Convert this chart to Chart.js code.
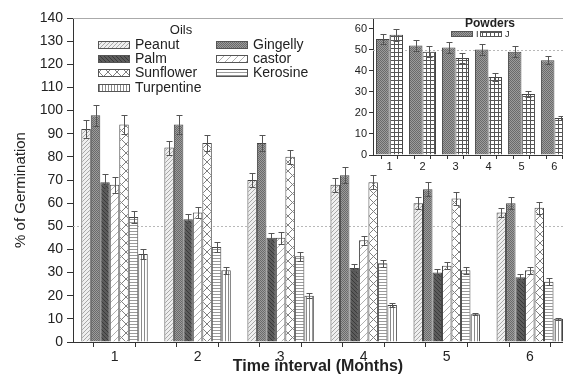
<!DOCTYPE html>
<html>
<head>
<meta charset="utf-8">
<script src="https://cdn.jsdelivr.net/npm/chart.js@4"></script>
<style>
  body { margin: 0; background: #fff; }
  #wrap { position: relative; width: 563px; height: 376px; }
  #mainChart { position: absolute; left: 0; top: 0; }
  #insetChart { position: absolute; left: 330px; top: 0; }
</style>
</head>
<body>
<div id="wrap">
  <canvas id="mainChart" width="563" height="376"></canvas>
  <canvas id="insetChart" width="233" height="180"></canvas>
</div>
<script>
// data
const months = [1, 2, 3, 4, 5, 6];
const xTicks = [1, 1.5, 2, 2.5, 3, 3.5, 4, 4.5, 5, 5.5, 6];

const peanut     = [92, 84, 70, 68, 60, 56];
const gingelly   = [98, 94, 86, 72, 66, 60];
const palm       = [69, 53, 45, 32, 30, 28];
const castor     = [68, 56, 45, 44, 33, 31];
const sunflower  = [94, 86, 80, 69, 62, 58];
const kerosine   = [54, 41, 37, 34, 31, 26];
const turpentine = [38, 31, 20, 16, 12, 10];

const peanutErr     = [4, 3, 3, 3, 2.5, 2];
const gingellyErr   = [4.5, 4, 3.5, 3.5, 3, 2.5];
const palmErr       = [3.5, 2.5, 2, 1.5, 1.5, 1.5];
const castorErr     = [3.5, 2.5, 2.5, 2, 1.5, 1.5];
const sunflowerErr  = [4, 3.5, 3, 3, 3, 2.5];
const kerosineErr   = [2.5, 2, 2, 1.5, 1.5, 1.5];
const turpentineErr = [2, 1.5, 1, 1, 0.5, 0.5];

const powderI    = [55, 52, 51, 50, 49, 45];
const powderJ    = [57, 49, 46, 37, 29, 17.5];
const powderIErr = [2.5, 2.5, 2.5, 2.5, 2.5, 2];
const powderJErr = [3, 2.5, 2.5, 2, 1.5, 1];

// hatch fills
const pctx = document.createElement('canvas').getContext('2d');
function makePattern(size, bg, fg, draw) {
    const c = document.createElement('canvas');
    c.width = c.height = size;
    const g = c.getContext('2d');
    g.fillStyle = bg;
    g.fillRect(0, 0, size, size);
    g.strokeStyle = fg;
    g.fillStyle = fg;
    g.lineWidth = 1;
    draw(g, size);
    return pctx.createPattern(c, 'repeat');
}
function slash(g, s) {
    g.beginPath();
    g.moveTo(0, s); g.lineTo(s, 0);
    g.moveTo(-1, 1); g.lineTo(1, -1);
    g.moveTo(s - 1, s + 1); g.lineTo(s + 1, s - 1);
    g.stroke();
}
function backslash(g, s) {
    g.beginPath();
    g.moveTo(0, 0); g.lineTo(s, s);
    g.moveTo(-1, s - 1); g.lineTo(1, s + 1);
    g.moveTo(s - 1, -1); g.lineTo(s + 1, 1);
    g.stroke();
}

const fillPeanut = makePattern(4, '#efefef', '#a8a8a8', slash);
const fillGingelly = makePattern(2, '#9c9c9c', '#6a6a6a', (g) => { g.fillRect(0, 0, 1, 1); g.fillRect(1, 1, 1, 1); });
const fillPalm = makePattern(4, '#5c5c5c', '#3a3a3a', backslash);
const fillCastor = makePattern(7, '#ffffff', '#b0b0b0', slash);
const fillSunflower = makePattern(9, '#ffffff', '#808080', (g, s) => { slash(g, s); backslash(g, s); });
const fillKerosine = makePattern(3, '#ffffff', '#9a9a9a', (g) => { g.fillRect(0, 0, 3, 1); });
const fillTurpentine = makePattern(3, '#ffffff', '#8a8a8a', (g) => { g.fillRect(0, 0, 1, 3); });
const fillJ = makePattern(4, '#ffffff', '#555555', (g) => { g.fillRect(0, 0, 4, 1); g.fillRect(0, 0, 1, 4); });

function points(vals) {
    return months.map((m, i) => ({ x: m, y: vals[i] }));
}
// the half-step minor ticks make Chart.js measure a 0.5 spacing, hence the doubled percentage
function bars(label, vals, fill, pct) {
    return {
        label: label,
        data: points(vals),
        backgroundColor: fill,
        borderColor: '#444',
        borderWidth: 1,
        barPercentage: 1,
        categoryPercentage: pct
    };
}

// error bars drawn from each dataset's value +/- error
const errorBars = {
    id: 'errorBars',
    afterDatasetsDraw(chart, args, opts) {
        const ctx = chart.ctx;
        const ys = chart.scales.y;
        ctx.save();
        ctx.strokeStyle = '#555';
        ctx.lineWidth = 1;
        chart.data.datasets.forEach((ds, i) => {
            const meta = chart.getDatasetMeta(i);
            const errs = opts.errors[i];
            meta.data.forEach((el, j) => {
                const v = ds.data[j].y;
                const top = Math.round(ys.getPixelForValue(v + errs[j])) + 0.5;
                const bot = Math.round(ys.getPixelForValue(v - errs[j])) + 0.5;
                const x = Math.round(el.x) + 0.5;
                const w = opts.cap;
                ctx.beginPath();
                ctx.moveTo(x, top); ctx.lineTo(x, bot);
                ctx.moveTo(x - w, top); ctx.lineTo(x + w, top);
                ctx.moveTo(x - w, bot); ctx.lineTo(x + w, bot);
                ctx.stroke();
            });
        });
        ctx.restore();
    }
};

// dotted 50% reference line and top frame
const refLine = {
    id: 'refLine',
    beforeDatasetsDraw(chart, args, opts) {
        const ctx = chart.ctx;
        const a = chart.chartArea;
        const y = Math.round(chart.scales.y.getPixelForValue(opts.value)) + 0.5;
        ctx.save();
        ctx.strokeStyle = '#b8b8b8';
        ctx.lineWidth = 1;
        ctx.setLineDash([2, 2]);
        ctx.beginPath();
        ctx.moveTo(a.left, y); ctx.lineTo(a.right, y);
        ctx.stroke();
        ctx.setLineDash([]);
        ctx.strokeStyle = '#aaa';
        ctx.beginPath();
        ctx.moveTo(a.left, a.top + 0.5); ctx.lineTo(a.right, a.top + 0.5);
        ctx.stroke();
        ctx.restore();
    }
};

// boxed legend with pattern swatches
const swatchLegend = {
    id: 'swatchLegend',
    afterDraw(chart, args, opts) {
        const ctx = chart.ctx;
        const ds = chart.data.datasets;
        ctx.save();
        ctx.fillStyle = '#222';
        ctx.font = opts.titleFont;
        ctx.textAlign = 'center';
        ctx.textBaseline = 'middle';
        ctx.fillText(opts.title, opts.titleX, opts.titleY);
        ctx.font = opts.font;
        ctx.textAlign = 'left';
        opts.items.forEach((it, k) => {
            ctx.fillStyle = ds[k].backgroundColor;
            ctx.fillRect(it.x, it.y - opts.h / 2, opts.w, opts.h);
            ctx.strokeStyle = '#555';
            ctx.lineWidth = 1;
            ctx.strokeRect(it.x + 0.5, it.y - opts.h / 2 + 0.5, opts.w - 1, opts.h - 1);
            ctx.fillStyle = '#222';
            ctx.fillText(ds[k].label, it.x + opts.w + opts.gap, it.y + 0.5);
        });
        if (opts.yTitle) {
            ctx.translate(opts.yTitle.x, opts.yTitle.y);
            ctx.rotate(-Math.PI / 2);
            ctx.textAlign = 'center';
            ctx.font = opts.yTitle.font;
            ctx.fillText(opts.yTitle.text, 0, 0);
        }
        ctx.restore();
    }
};

Chart.defaults.font.family = '"Liberation Sans", Arial, sans-serif';
Chart.defaults.color = '#222';

const axisCommon = {
    border: { color: '#333', width: 1 },
    grid: { drawOnChartArea: false, tickColor: '#333', tickLength: 5 }
};

new Chart(document.getElementById('mainChart'), {
    type: 'bar',
    data: {
        datasets: [
            bars('Peanut', peanut, fillPeanut, 1.6),
            bars('Gingelly', gingelly, fillGingelly, 1.6),
            bars('Palm', palm, fillPalm, 1.6),
            bars('castor', castor, fillCastor, 1.6),
            bars('Sunflower', sunflower, fillSunflower, 1.6),
            bars('Kerosine', kerosine, fillKerosine, 1.6),
            bars('Turpentine', turpentine, fillTurpentine, 1.6)
        ]
    },
    options: {
        responsive: false,
        animation: false,
        devicePixelRatio: 1,
        layout: { padding: { top: 18, right: 0, left: 0, bottom: 0 } },
        scales: {
            x: {
                type: 'linear',
                offset: false,
                min: 0.5,
                max: 6.4,
                afterBuildTicks: (s) => { s.ticks = xTicks.map(v => ({ value: v })); },
                afterFit: (s) => { s.height = 34; },
                ticks: {
                    autoSkip: false,
                    maxRotation: 0,
                    padding: 2,
                    font: { size: 14 },
                    callback: (v) => Number.isInteger(v) ? v : ''
                },
                title: {
                    display: true,
                    text: 'Time interval (Months)',
                    font: { size: 16, weight: 'bold', lineHeight: 1 },
                    padding: { top: 0, bottom: 1 }
                },
                ...axisCommon
            },
            y: {
                min: 0,
                max: 140,
                afterFit: (s) => { s.width = 73; },
                ticks: {
                    stepSize: 5,
                    padding: 4,
                    font: { size: 14 },
                    callback: (v) => v % 10 === 0 ? v : ''
                },
                ...axisCommon,
                grid: { drawOnChartArea: false, tickColor: '#333', tickLength: 6 }
            }
        },
        plugins: {
            legend: { display: false },
            tooltip: { enabled: false },
            refLine: { value: 50 },
            errorBars: {
                cap: 3,
                errors: [peanutErr, gingellyErr, palmErr, castorErr, sunflowerErr, kerosineErr, turpentineErr]
            },
            swatchLegend: {
                title: 'Oils',
                titleFont: '13px "Liberation Sans", Arial, sans-serif',
                titleX: 181, titleY: 30,
                font: '14px "Liberation Sans", Arial, sans-serif',
                w: 32, h: 8, gap: 5,
                items: [
                    { x: 98, y: 45 }, { x: 216, y: 45 },
                    { x: 98, y: 59 }, { x: 216, y: 59 },
                    { x: 98, y: 73 }, { x: 216, y: 73 },
                    { x: 98, y: 88 }
                ],
                yTitle: {
                    text: '% of Germination',
                    x: 21, y: 190,
                    font: '15px "Liberation Sans", Arial, sans-serif'
                }
            }
        }
    },
    plugins: [refLine, errorBars, swatchLegend]
});

// inset: powders
new Chart(document.getElementById('insetChart'), {
    type: 'bar',
    data: {
        datasets: [
            bars('I', powderI, fillGingelly, 1.64),
            bars('J', powderJ, fillJ, 1.64)
        ]
    },
    options: {
        responsive: false,
        animation: false,
        devicePixelRatio: 1,
        layout: { padding: { top: 18, right: 0, left: 0, bottom: 0 } },
        scales: {
            x: {
                type: 'linear',
                offset: false,
                min: 0.5,
                max: 6.26,
                afterBuildTicks: (s) => { s.ticks = xTicks.map(v => ({ value: v })); },
                afterFit: (s) => { s.height = 25; },
                ticks: {
                    autoSkip: false,
                    maxRotation: 0,
                    padding: 1,
                    font: { size: 11 },
                    callback: (v) => Number.isInteger(v) ? v : ''
                },
                border: { color: '#333', width: 1 },
                grid: { drawOnChartArea: false, tickColor: '#333', tickLength: 4 }
            },
            y: {
                min: 0,
                max: 65,
                afterFit: (s) => { s.width = 43; },
                ticks: {
                    stepSize: 5,
                    padding: 2,
                    font: { size: 11 },
                    callback: (v) => v % 10 === 0 ? v : ''
                },
                border: { color: '#333', width: 1 },
                grid: { drawOnChartArea: false, tickColor: '#333', tickLength: 4 }
            }
        },
        plugins: {
            legend: { display: false },
            tooltip: { enabled: false },
            refLine: { value: 50 },
            errorBars: { cap: 3, errors: [powderIErr, powderJErr] },
            swatchLegend: {
                title: 'Powders',
                titleFont: 'bold 12px "Liberation Sans", Arial, sans-serif',
                titleX: 160, titleY: 24,
                font: '9px "Liberation Sans", Arial, sans-serif',
                w: 22, h: 6, gap: 3,
                items: [{ x: 121, y: 34 }, { x: 150, y: 34 }]
            }
        }
    },
    plugins: [refLine, errorBars, swatchLegend]
});
</script>
</body>
</html>
